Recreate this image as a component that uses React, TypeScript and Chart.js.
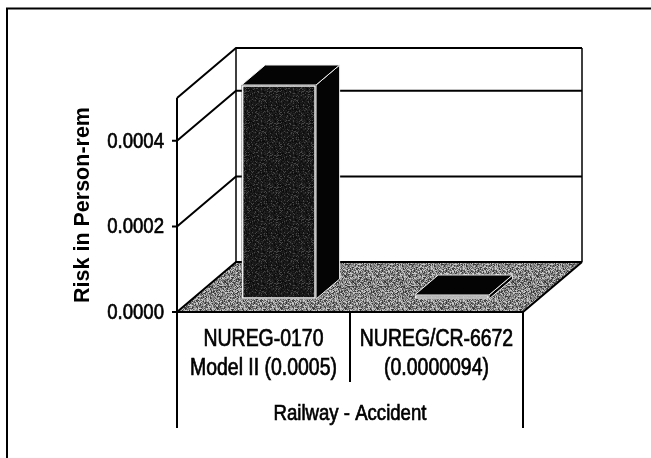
import React, { useEffect, useRef } from "react";
import { Chart, registerables } from "chart.js";

Chart.register(...registerables);

// ---- data ----
const categoryLabels: string[][] = [
  ["NUREG-0170", "Model II (0.0005)"],
  ["NUREG/CR-6672", "(0.0000094)"],
];
const riskValues: number[] = [0.0005, 0.0000094];
const yTickValues: number[] = [0, 0.0002, 0.0004];
const yMax = 0.0005;
const groupLabel = "Railway - Accident";
const yTitle = "Risk in Person-rem";

// ---- styling / geometry ----
const DEPTH_X = 59;
const DEPTH_Y = -50;
const BAR_FRONT = 0.26;
const BAR_BACK = 0.66;
const NARROW_SCALE = 0.845;
const SANS = '"Liberation Sans", Arial, sans-serif';

function makeNoisePattern(ctx: CanvasRenderingContext2D, levels: number[], seed: number) {
  const N = 32;
  const c = document.createElement("canvas");
  c.width = N;
  c.height = N;
  const g = c.getContext("2d")!;
  const img = g.createImageData(N, N);
  let s = seed >>> 0;
  for (let i = 0; i < N * N; i++) {
    s = (Math.imul(s, 1664525) + 1013904223) >>> 0;
    const v = levels[(s >>> 24) % levels.length];
    img.data[i * 4] = v;
    img.data[i * 4 + 1] = v;
    img.data[i * 4 + 2] = v;
    img.data[i * 4 + 3] = 255;
  }
  g.putImageData(img, 0, 0);
  return ctx.createPattern(c, "repeat")!;
}

function poly(ctx: CanvasRenderingContext2D, pts: number[][]) {
  ctx.beginPath();
  ctx.moveTo(pts[0][0], pts[0][1]);
  for (let i = 1; i < pts.length; i++) ctx.lineTo(pts[i][0], pts[i][1]);
  ctx.closePath();
}

function narrowText(
  ctx: CanvasRenderingContext2D,
  text: string,
  x: number,
  y: number,
  size: number,
  align: CanvasTextAlign
) {
  ctx.save();
  ctx.translate(x, y);
  ctx.scale(NARROW_SCALE, 1);
  ctx.font = `${size}px ${SANS}`;
  ctx.fillStyle = "#000";
  ctx.strokeStyle = "#000";
  ctx.lineWidth = 0.7;
  ctx.textAlign = align;
  ctx.textBaseline = "middle";
  ctx.fillText(text, 0, 0);
  ctx.strokeText(text, 0, 0);
  ctx.restore();
}

const box3d = {
  id: "box3d",
  beforeDatasetsDraw(chart: any) {
    const { ctx, chartArea: a, scales } = chart;
    const x = scales.x;
    const y = scales.y;
    const L = a.left;
    const R = a.right;
    const T = y.getPixelForValue(yMax);
    const B = y.getPixelForValue(0);
    const labelBottom = x.bottom - 30;
    ctx.save();
    // outer frame (left + top)
    ctx.strokeStyle = "#000";
    ctx.lineWidth = 2;
    ctx.beginPath();
    ctx.moveTo(7, chart.height);
    ctx.lineTo(7, 8.5);
    ctx.lineTo(chart.width, 8.5);
    ctx.stroke();

    // floor
    ctx.fillStyle = makeNoisePattern(ctx, [55, 90, 120, 145, 170, 200], 12345);
    poly(ctx, [
      [L, B],
      [L + DEPTH_X, B + DEPTH_Y],
      [R + DEPTH_X, B + DEPTH_Y],
      [R, B],
    ]);
    ctx.fill();

    ctx.strokeStyle = "#000";
    ctx.lineWidth = 2;
    ctx.lineJoin = "miter";
    // gridlines on side and back walls
    for (const v of [...yTickValues, yMax]) {
      const py = y.getPixelForValue(v);
      ctx.beginPath();
      ctx.moveTo(L, py);
      ctx.lineTo(L + DEPTH_X, py + DEPTH_Y);
      ctx.lineTo(R + DEPTH_X, py + DEPTH_Y);
      ctx.stroke();
    }
    ctx.lineWidth = 1.5;
    ctx.beginPath();
    ctx.moveTo(L + DEPTH_X, T + DEPTH_Y);
    ctx.lineTo(L + DEPTH_X, B + DEPTH_Y);
    ctx.moveTo(R + DEPTH_X, T + DEPTH_Y);
    ctx.lineTo(R + DEPTH_X, B + DEPTH_Y);
    ctx.stroke();

    ctx.lineWidth = 2;
    ctx.beginPath();
    ctx.moveTo(L, T);
    ctx.lineTo(L, labelBottom);
    ctx.moveTo(L, B);
    ctx.lineTo(R, B);
    ctx.lineTo(R + DEPTH_X, B + DEPTH_Y);
    ctx.moveTo(R, B);
    ctx.lineTo(R, labelBottom);
    const mid = (x.getPixelForValue(0) + x.getPixelForValue(1)) / 2;
    ctx.moveTo(mid, B);
    ctx.lineTo(mid, B + 70);
    for (const v of yTickValues) {
      const py = y.getPixelForValue(v);
      ctx.moveTo(L - 5, py);
      ctx.lineTo(L, py);
    }
    ctx.stroke();

    // y tick labels (narrow Arial-like)
    for (const t of y.ticks) {
      const py = y.getPixelForValue(t.value);
      narrowText(ctx, Number(t.value).toFixed(4), L - 13, py + 1, 22, "right");
    }
    // category labels
    chart.data.labels.forEach((lab: string[], i: number) => {
      const px = x.getPixelForValue(i);
      lab.forEach((line, j) => narrowText(ctx, line, px, B + 28 + j * 29, 23, "center"));
    });
    // group label
    narrowText(ctx, groupLabel, (L + R) / 2, x.bottom - 44, 22, "center");
    ctx.restore();
  },
  afterDatasetsDraw(chart: any) {
    const { ctx } = chart;
    const meta = chart.getDatasetMeta(0);
    const fx = BAR_FRONT * DEPTH_X;
    const fy = BAR_FRONT * DEPTH_Y;
    const bx = BAR_BACK * DEPTH_X;
    const by = BAR_BACK * DEPTH_Y;
    const frontPat = makeNoisePattern(ctx, [10, 18, 24, 30, 40, 28, 20, 70], 777);
    ctx.save();
    meta.data.forEach((el: any) => {
      const { x: cx, y: top, base, width } = el.getProps(["x", "y", "base", "width"], true);
      const x0 = cx - width / 2;
      const x1 = cx + width / 2;
      ctx.lineWidth = 1;
      ctx.strokeStyle = "#f2f2f2";
      poly(ctx, [
        [x1 + fx, top + fy],
        [x1 + bx, top + by],
        [x1 + bx, base + by],
        [x1 + fx, base + fy],
      ]);
      ctx.fillStyle = "#040404";
      ctx.fill();
      ctx.stroke();
      poly(ctx, [
        [x0 + fx, top + fy],
        [x0 + bx, top + by],
        [x1 + bx, top + by],
        [x1 + fx, top + fy],
      ]);
      ctx.fillStyle = "#040404";
      ctx.fill();
      ctx.stroke();
      ctx.fillStyle = frontPat;
      ctx.fillRect(x0 + fx, top + fy, width, base - top);
      ctx.lineWidth = 1.5;
      ctx.strokeRect(x0 + fx + 1, top + fy + 1, width - 2, base - top - 2);
    });
    ctx.restore();
  },
};

export default function App() {
  const ref = useRef<HTMLCanvasElement>(null);
  useEffect(() => {
    if (!ref.current) return;
    const chart = new Chart(ref.current, {
      type: "bar",
      data: {
        labels: categoryLabels,
        datasets: [
          {
            data: riskValues,
            backgroundColor: "rgba(0,0,0,0)",
            borderWidth: 0,
            categoryPercentage: 1,
            barPercentage: 0.43,
          },
        ],
      },
      options: {
        animation: false,
        responsive: false,
        devicePixelRatio: 1,
        layout: { padding: { left: 0, top: 98, right: 128, bottom: 0 } },
        plugins: { legend: { display: false }, tooltip: { enabled: false } },
        scales: {
          x: {
            type: "category",
            grid: { display: false, drawTicks: false },
            border: { display: false },
            ticks: {
              autoSkip: false,
              maxRotation: 0,
              color: "rgba(0,0,0,0)",
              font: { family: SANS, size: 18 },
            },
            afterFit: (s: any) => {
              s.height = 146;
            },
          },
          y: {
            type: "linear",
            min: 0,
            max: yMax,
            grid: { display: false, drawTicks: true, tickLength: 5 },
            border: { display: false },
            ticks: {
              stepSize: 0.0002,
              padding: 8,
              color: "rgba(0,0,0,0)",
              font: { family: SANS, size: 18 },
              callback: (v: any) => Number(v).toFixed(4),
            },
            afterBuildTicks: (s: any) => {
              s.ticks = yTickValues.map((v) => ({ value: v }));
            },
            title: {
              display: true,
              text: yTitle,
              color: "#000",
              font: { family: SANS, size: 21.5, weight: "bold" },
              padding: { top: 70, bottom: 0 },
            },
            afterFit: (s: any) => {
              s.width = 177;
            },
          },
        },
      },
      plugins: [box3d],
    } as any);
    return () => chart.destroy();
  }, []);
  return (
    <div style={{ position: "absolute", left: 0, top: 0, width: 651, height: 458, background: "#fff" }}>
      <canvas ref={ref} width={651} height={458} style={{ display: "block" }} />
    </div>
  );
}
